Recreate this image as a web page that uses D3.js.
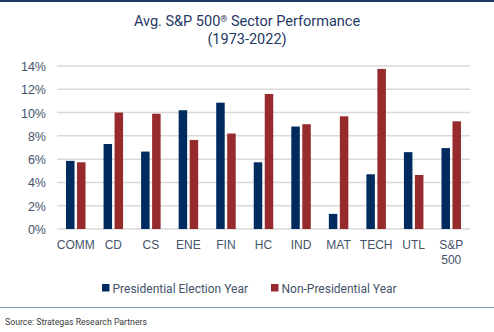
<!DOCTYPE html>
<html>
<head>
<meta charset="utf-8">
<script src="https://cdn.jsdelivr.net/npm/d3@7"></script>
<style>
  body { margin: 0; background: #fff; }
  svg { display: block; font-family: "Roboto", "Liberation Sans", sans-serif; }
  .axis text { fill: #44546a; }
  .axis path, .axis line { display: none; }
</style>
</head>
<body>
<svg id="chart" width="494" height="332"></svg>
<script>
const sectors = ["COMM", "CD", "CS", "ENE", "FIN", "HC", "IND", "MAT", "TECH", "UTL", "S&P 500"]
const election = [5.85, 7.3, 6.65, 10.2, 10.85, 5.73, 8.8, 1.3, 4.7, 6.6, 6.95]
const nonElection = [5.73, 10.0, 9.9, 7.65, 8.2, 11.6, 9.0, 9.68, 13.75, 4.64, 9.25]
const yTicks = [0, 2, 4, 6, 8, 10, 12, 14]
const seriesNames = ["Presidential Election Year", "Non-Presidential Year"]
const colors = ["#002b5f", "#962a2d"]

const svg = d3.select('#chart')
const margin = { left: 57, right: 24, top: 66, bottom: 103 }
const W = 494, H = 332

// top rule and source rule
svg.append("rect").attr("x", 0).attr("y", 0).attr("width", W).attr("height", 2).attr("fill", "#1f3864")
svg.append("line").attr("x1", 0).attr("x2", W).attr("y1", 307.5).attr("y2", 307.5)
  .attr("stroke", "#8497b0").attr("stroke-width", 1)

let title = svg.append("text").attr("x", 247).attr("y", 26).attr("text-anchor", "middle")
  .attr("fill", "#1f3864").style("font-size", "14.5px")
title.append("tspan").text("Avg. S&P 500")
title.append("tspan").style("font-size", "9px").attr("dy", -4).text("®")
title.append("tspan").attr("dy", 4).text(" Sector Performance")
svg.append("text").attr("x", 247).attr("y", 44).attr("text-anchor", "middle")
  .attr("fill", "#1f3864").style("font-size", "14.5px")
  .text("(1973-2022)")

let x = d3.scaleBand().domain(sectors).range([margin.left, W - margin.right])
let y = d3.scaleLinear().domain([0, 14]).range([H - margin.bottom, margin.top])

// gridlines
svg.append("g").selectAll("line").data(yTicks).enter().append("line")
  .attr("x1", margin.left).attr("x2", W - margin.right)
  .attr("y1", d => y(d)).attr("y2", d => y(d))
  .attr("stroke", "#d9d9d9").attr("stroke-width", 1.5)

let yAxis = d3.axisLeft(y).tickValues(yTicks).tickFormat(d => d + "%").tickSize(0).tickPadding(11)
svg.append("g").attr("class", "axis")
  .attr("transform", "translate(" + margin.left + ",0)")
  .call(yAxis)
  .selectAll("text").style("font-size", "12.5px").attr("dy", "0.36em")

let barW = 8.5, gap = 2.5
const series = [election, nonElection]
series.forEach((vals, s) => {
  svg.append("g").selectAll("rect").data(vals).enter().append("rect")
    .attr("x", (d, i) => x(sectors[i]) + x.bandwidth() / 2 + (s == 0 ? -barW - gap / 2 : gap / 2))
    .attr("y", d => y(d))
    .attr("width", barW)
    .attr("height", d => y(0) - y(d))
    .attr("fill", colors[s])
})

let xAxis = d3.axisBottom(x).tickSize(0).tickPadding(0)
let xG = svg.append("g").attr("class", "axis")
  .attr("transform", "translate(0," + y(0) + ")")
  .call(xAxis)
xG.selectAll("text").text(null).attr("dy", null).attr("y", null).style("font-size", "12px")
  .each(function(d) {
    let parts = d.split(" ")
    let t = d3.select(this)
    parts.forEach((p, k) => {
      t.append("tspan").attr("x", 0).attr("y", 19.5 + k * 15).text(p)
    })
  })

// legend
const legendX = [102, 271]
seriesNames.forEach((n, s) => {
  svg.append("rect").attr("x", legendX[s]).attr("y", 284).attr("width", 7.5).attr("height", 7.5).attr("fill", colors[s])
  svg.append("text").attr("x", legendX[s] + 10.5).attr("y", 292.5)
    .attr("fill", "#44546a").style("font-size", "12px").text(n)
})

svg.append("text").attr("x", 5).attr("y", 325)
  .attr("fill", "#3a3a3a").style("font-size", "9.5px")
  .attr("textLength", 142).attr("lengthAdjust", "spacingAndGlyphs")
  .text("Source: Strategas Research Partners")
</script>
</body>
</html>
